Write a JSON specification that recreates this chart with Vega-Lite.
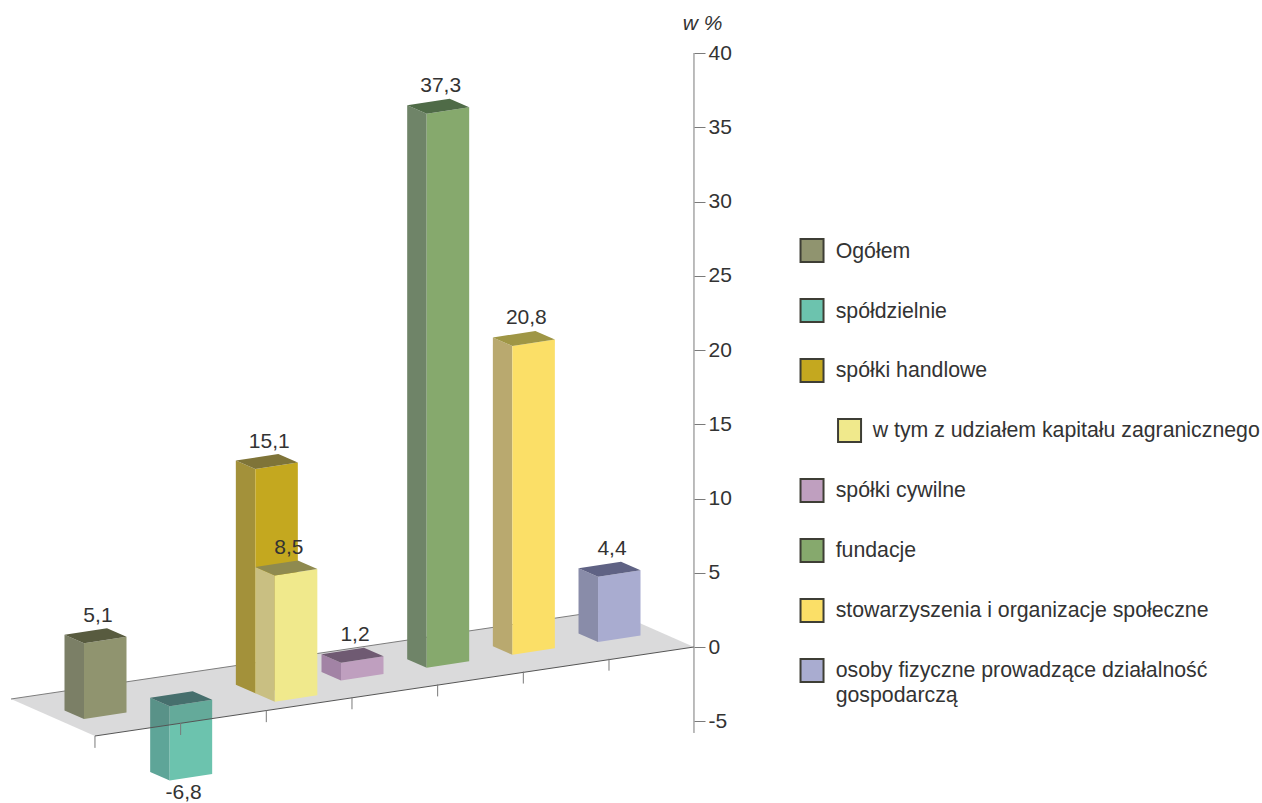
{"$schema":"https://vega.github.io/schema/vega-lite/v6.json","width":1262,"height":803,"padding":0,"autosize":"none","background":"white","config":{"view":{"stroke":null},"font":"Liberation Sans"},
"datasets":{"bars":[
{"name":"Ogółem","value":5.1,"order":0,"slot":0,"forward":0,"indent":0},
{"name":"spółdzielnie","value":-6.8,"order":1,"slot":1,"forward":0,"indent":0},
{"name":"spółki handlowe","value":15.1,"order":2,"slot":2,"forward":0,"indent":0},
{"name":"w tym z udziałem kapitału zagranicznego","value":8.5,"order":3,"slot":2,"forward":1,"indent":1},
{"name":"spółki cywilne","value":1.2,"order":4,"slot":3,"forward":0,"indent":0},
{"name":"fundacje","value":37.3,"order":5,"slot":4,"forward":0,"indent":0},
{"name":"stowarzyszenia i organizacje społeczne","value":20.8,"order":6,"slot":5,"forward":0,"indent":0},
{"name":"osoby fizyczne prowadzące działalność\ngospodarczą","value":4.4,"order":7,"slot":6,"forward":0,"indent":0}],
"floor":[{"o":0,"gx":-0.852,"gy":-3.502},{"o":1,"gx":0.128,"gy":-5.993},{"o":2,"gx":7.12,"gy":0},{"o":3,"gx":6.14,"gy":2.492}],
"edges":[
{"kind":"back","gx":-0.852,"gy":-3.502,"gx2":6.14,"gy2":2.492},
{"kind":"front","gx":0.128,"gy":-5.993,"gx2":7.12,"gy2":0},
{"kind":"tick","gx":0.128,"gy":-5.993,"gx2":0.128,"gy2":-6.793},
{"kind":"tick","gx":1.128,"gy":-5.126,"gx2":1.128,"gy2":-5.926},
{"kind":"tick","gx":2.128,"gy":-4.26,"gx2":2.128,"gy2":-5.06},
{"kind":"tick","gx":3.128,"gy":-3.393,"gx2":3.128,"gy2":-4.193},
{"kind":"tick","gx":4.128,"gy":-2.527,"gx2":4.128,"gy2":-3.327},
{"kind":"tick","gx":5.128,"gy":-1.66,"gx2":5.128,"gy2":-2.46},
{"kind":"tick","gx":6.128,"gy":-0.794,"gx2":6.128,"gy2":-1.594},
{"kind":"tick","gx":7.12,"gy":40,"gx2":7.12,"gy2":-5.79}]},
"encoding":{
"x":{"field":"gx","type":"quantitative","scale":{"domain":[-0.9805,13.7504],"nice":false,"zero":false},"axis":null},
"y":{"field":"gy","type":"quantitative","scale":{"domain":[-10.505,43.57],"nice":false,"zero":false},
"axis":{"orient":"right","offset":-568,"domain":false,"grid":false,"values":[-5,0,5,10,15,20,25,30,35,40],"tickSize":11,"tickColor":"#7a7a7a","tickWidth":1,"labelFontSize":21,"labelColor":"#333333","labelPadding":3,"labelFont":"Liberation Sans","labelExpr":"replace(datum.label,'−','-')","title":"w %","titleAngle":0,"titleFontStyle":"italic","titleFontWeight":"normal","titleFontSize":21,"titleFont":"Liberation Sans","titleColor":"#333333","titleX":8,"titleY":29,"titleAlign":"center","titleBaseline":"alphabetic"}}},
"layer":[
{"data":{"name":"bars"},"transform":[{"filter":"datum.value<0"},
{"calculate":"-4.848+0.864*datum.slot-0.572*datum.forward","as":"base"},{"calculate":"datum.slot+0.2276*datum.forward","as":"x0"},{"calculate":"datum.base+max(datum.value,0)","as":"hi"},{"calculate":"datum.base+min(0,max(datum.value,-5))","as":"lo"},
{"calculate":"['L','R','T']","as":"faces"},{"flatten":["faces"],"as":["face"]},{"calculate":"[0,1,2,3]","as":"vs"},{"flatten":["vs"],"as":["v"]},
{"calculate":"datum.face=='L'?0:datum.face=='R'?[0,0,1,1][datum.v]:[0,1,1,0][datum.v]","as":"a"},{"calculate":"datum.face=='R'?0:[0,0,1,1][datum.v]","as":"b"},{"calculate":"datum.face=='T'?datum.hi:((datum.v==1||datum.v==2)?datum.lo:datum.hi)","as":"h"},
{"calculate":"datum.x0+datum.a*0.4961-datum.b*0.2276","as":"gx"},{"calculate":"datum.h+datum.a*0.438+datum.b*0.572","as":"gy"},{"calculate":"datum.name+'|'+datum.face","as":"key"}],
"mark":{"type":"line","strokeWidth":0,"fill":"#000"},
"encoding":{"fill":{"field":"key","type":"nominal","legend":null,"scale":{"domain":["Ogółem|R","Ogółem|L","Ogółem|T","spółdzielnie|R","spółdzielnie|L","spółdzielnie|T","spółki handlowe|R","spółki handlowe|L","spółki handlowe|T","w tym z udziałem kapitału zagranicznego|R","w tym z udziałem kapitału zagranicznego|L","w tym z udziałem kapitału zagranicznego|T","spółki cywilne|R","spółki cywilne|L","spółki cywilne|T","fundacje|R","fundacje|L","fundacje|T","stowarzyszenia i organizacje społeczne|R","stowarzyszenia i organizacje społeczne|L","stowarzyszenia i organizacje społeczne|T","osoby fizyczne prowadzące działalność\ngospodarczą|R","osoby fizyczne prowadzące działalność\ngospodarczą|L","osoby fizyczne prowadzące działalność\ngospodarczą|T"],"range":["#90946f","#7b7f66","#585b3f","#6cc3ae","#5ea598","#467a76","#c4a81f","#a3913a","#7f7438","#f0e98c","#c9bf82","#8f8a4f","#bf9fbf","#a283a5","#6f5a72","#86a96d","#6f8468","#4f6b47","#fbdf67","#b9a96f","#9f9645","#a9acd0","#898ca9","#5f6284"]}},"detail":{"field":"key"},"order":{"field":"v","type":"quantitative"}}},
{"data":{"name":"floor"},"mark":{"type":"line","fill":"#46484c","strokeWidth":0,"opacity":0.2},"encoding":{"order":{"field":"o","type":"quantitative"}}},
{"data":{"name":"edges"},"mark":{"type":"rule","strokeWidth":1},"encoding":{"x2":{"field":"gx2"},"y2":{"field":"gy2"},"color":{"field":"kind","type":"nominal","legend":null,"scale":{"domain":["back","front","tick"],"range":["#7d7d7d","#555555","#7a7a7a"]}}}},
{"data":{"name":"bars"},"transform":[{"filter":"datum.value>=0"},
{"calculate":"-4.848+0.864*datum.slot-0.572*datum.forward","as":"base"},{"calculate":"datum.slot+0.2276*datum.forward","as":"x0"},{"calculate":"datum.base+max(datum.value,0)","as":"hi"},{"calculate":"datum.base+min(0,max(datum.value,-5))","as":"lo"},
{"calculate":"['L','R','T']","as":"faces"},{"flatten":["faces"],"as":["face"]},{"calculate":"[0,1,2,3]","as":"vs"},{"flatten":["vs"],"as":["v"]},
{"calculate":"datum.face=='L'?0:datum.face=='R'?[0,0,1,1][datum.v]:[0,1,1,0][datum.v]","as":"a"},{"calculate":"datum.face=='R'?0:[0,0,1,1][datum.v]","as":"b"},{"calculate":"datum.face=='T'?datum.hi:((datum.v==1||datum.v==2)?datum.lo:datum.hi)","as":"h"},
{"calculate":"datum.x0+datum.a*0.4961-datum.b*0.2276","as":"gx"},{"calculate":"datum.h+datum.a*0.438+datum.b*0.572","as":"gy"},{"calculate":"datum.name+'|'+datum.face","as":"key"}],
"mark":{"type":"line","strokeWidth":0,"fill":"#000"},
"encoding":{"fill":{"field":"key","type":"nominal","legend":null,"scale":{"domain":["Ogółem|R","Ogółem|L","Ogółem|T","spółdzielnie|R","spółdzielnie|L","spółdzielnie|T","spółki handlowe|R","spółki handlowe|L","spółki handlowe|T","w tym z udziałem kapitału zagranicznego|R","w tym z udziałem kapitału zagranicznego|L","w tym z udziałem kapitału zagranicznego|T","spółki cywilne|R","spółki cywilne|L","spółki cywilne|T","fundacje|R","fundacje|L","fundacje|T","stowarzyszenia i organizacje społeczne|R","stowarzyszenia i organizacje społeczne|L","stowarzyszenia i organizacje społeczne|T","osoby fizyczne prowadzące działalność\ngospodarczą|R","osoby fizyczne prowadzące działalność\ngospodarczą|L","osoby fizyczne prowadzące działalność\ngospodarczą|T"],"range":["#90946f","#7b7f66","#585b3f","#6cc3ae","#5ea598","#467a76","#c4a81f","#a3913a","#7f7438","#f0e98c","#c9bf82","#8f8a4f","#bf9fbf","#a283a5","#6f5a72","#86a96d","#6f8468","#4f6b47","#fbdf67","#b9a96f","#9f9645","#a9acd0","#898ca9","#5f6284"]}},"detail":{"field":"key"},"order":{"field":"v","type":"quantitative"}}},
{"data":{"name":"bars"},"transform":[
{"calculate":"-4.848+0.864*datum.slot-0.572*datum.forward","as":"base"},
{"calculate":"datum.slot+0.2276*datum.forward+0.163","as":"gx"},
{"calculate":"datum.value>=0?datum.base+datum.value+1.448:datum.base+max(datum.value,-5)-1.28","as":"gy"},
{"calculate":"replace(replace(format(datum.value,'.1f'),'.',','),'−','-')","as":"label"}],
"mark":{"type":"text","fontSize":21,"font":"Liberation Sans","color":"#333333","align":"center","baseline":"alphabetic"},"encoding":{"text":{"field":"label"}}},
{"data":{"name":"bars"},"transform":[
{"calculate":"datum.indent==1?8.936:8.498","as":"gx"},{"calculate":"26.7-4.04*datum.order","as":"gy"},{"calculate":"datum.name+'|R'","as":"key"}],
"mark":{"type":"point","shape":"square","filled":true,"size":529,"opacity":1,"stroke":"#3e3e35","strokeWidth":2},
"encoding":{"fill":{"field":"key","type":"nominal","legend":null}}},
{"data":{"name":"bars"},"transform":[
{"calculate":"datum.indent==1?9.206:8.774","as":"gx"},{"calculate":"26.7-4.04*datum.order-0.471","as":"gy"}],
"mark":{"type":"text","fontSize":21.3,"font":"Liberation Sans","color":"#333333","align":"left","baseline":"alphabetic","lineBreak":"\n","lineHeight":25},"encoding":{"text":{"field":"name"}}}
]}
